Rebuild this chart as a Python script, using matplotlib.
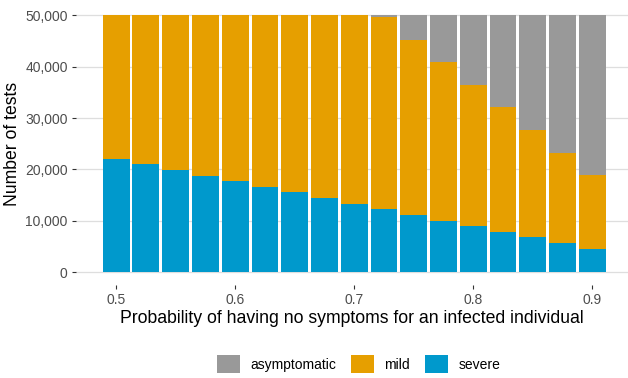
import matplotlib
matplotlib.use("Agg")
import matplotlib.pyplot as plt
from matplotlib.patches import Patch
from matplotlib.ticker import FuncFormatter
import numpy as np

plt.rcParams['font.family'] = ['Liberation Sans', 'DejaVu Sans']

prob = [0.5, 0.525, 0.55, 0.575, 0.6, 0.625, 0.65, 0.675, 0.7, 0.725,
        0.75, 0.775, 0.8, 0.825, 0.85, 0.875, 0.9]
severe = [22030, 21050, 19950, 18780, 17680, 16570, 15530, 14420, 13310,
          12220, 11110, 10000, 8900, 7800, 6760, 5650, 4540]
mild = [27970, 28950, 30050, 31220, 32320, 33430, 34470, 35580, 36690,
        37430, 34180, 30870, 27550, 24300, 20980, 17610, 14370]
asymptomatic = [0, 0, 0, 0, 0, 0, 0, 0, 0,
                350, 4710, 9130, 13550, 17900, 22260, 26740, 31090]
categories = ["asymptomatic", "mild", "severe"]
colors = {"asymptomatic": "#999999", "mild": "#E69F00", "severe": "#0099CC"}
xticks = [0.5, 0.6, 0.7, 0.8, 0.9]
yticks = [0, 10000, 20000, 30000, 40000, 50000]

fig = plt.figure(figsize=(6.28, 3.78), dpi=100)
ax = fig.add_axes([76 / 628, (378 - 285) / 378, (628 - 76) / 628, 282.5 / 378])

x = np.array(prob)
s = np.array(severe)
m = np.array(mild)
a = np.array(asymptomatic)
w = 0.0225
ax.bar(x, s, width=w, color=colors["severe"], linewidth=0, zorder=2)
ax.bar(x, m, width=w, bottom=s, color=colors["mild"], linewidth=0, zorder=2)
ax.bar(x, a, width=w, bottom=s + m, color=colors["asymptomatic"], linewidth=0, zorder=2)

ax.set_xlim(0.4663, 0.9300)
ax.set_ylim(-2500, 52500)
ax.set_xticks(xticks)
ax.set_xticklabels([f"{t:.1f}" for t in xticks])
ax.set_yticks(yticks)
ax.yaxis.set_major_formatter(FuncFormatter(lambda v, p: f"{int(v):,}"))
for sp in ax.spines.values():
    sp.set_visible(False)
ax.grid(axis='y', color='#DEDEDE', linewidth=0.9, zorder=0)
ax.set_axisbelow(True)
ax.tick_params(axis='both', colors='#333333', length=3, width=0.8,
               labelcolor='#4D4D4D', labelsize=10, pad=3)

ax.set_xlabel("Probability of having no symptoms for an infected individual",
              fontsize=12.7, color='black', labelpad=2)
ax.set_ylabel("Number of tests", fontsize=12.7, color='black', labelpad=3)

handles = [Patch(facecolor=colors[c], edgecolor='none', label=c) for c in categories]
fig.legend(handles=handles, loc='center', bbox_to_anchor=(0.571, 0.037), ncol=3,
           frameon=False, fontsize=10, handlelength=1.65, handleheight=1.65,
           columnspacing=1.08, handletextpad=0.75, borderpad=0.2)

fig.savefig("out.png", dpi=100)
